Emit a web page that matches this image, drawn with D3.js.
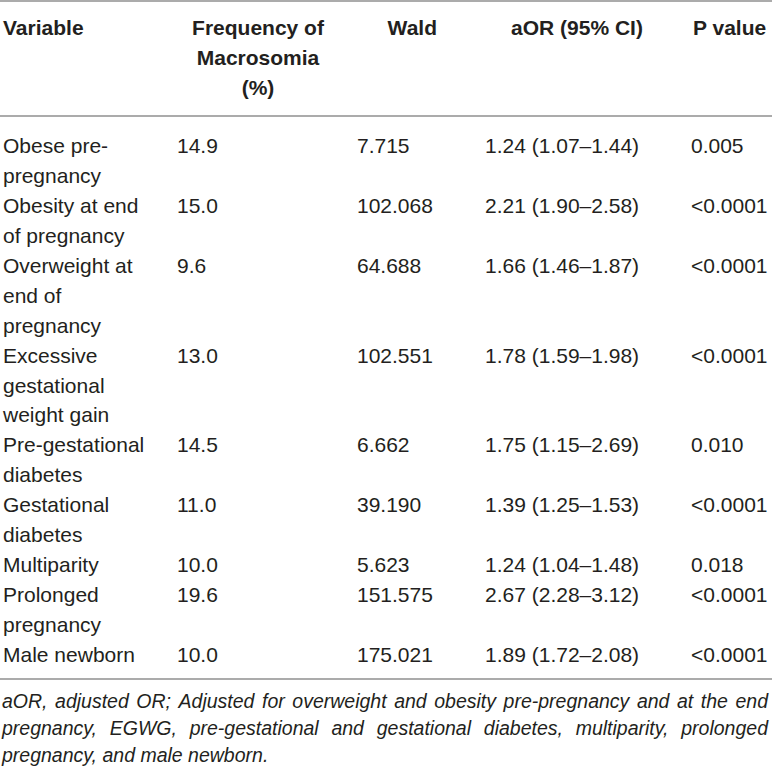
<!DOCTYPE html>
<html>
<head>
<meta charset="utf-8">
<script src="https://cdn.jsdelivr.net/npm/d3@7"></script>
<style>
  html, body { margin: 0; padding: 0; background: #fff; }
  svg { display: block; }
  text { font-family: "Liberation Sans", Arial, Helvetica, sans-serif; fill: #231f20; }
</style>
</head>
<body>
<svg id="chart" width="772" height="770"></svg>
<script>
// ---- data ----
const headerVariable = ["Variable"];
const headerFrequency = ["Frequency of", "Macrosomia", "(%)"];
const headerWald = ["Wald"];
const headerAOR = ["aOR (95% CI)"];
const headerP = ["P value"];

const variables = [
  ["Obese pre-", "pregnancy"],
  ["Obesity at end", "of pregnancy"],
  ["Overweight at", "end of", "pregnancy"],
  ["Excessive", "gestational", "weight gain"],
  ["Pre-gestational", "diabetes"],
  ["Gestational", "diabetes"],
  ["Multiparity"],
  ["Prolonged", "pregnancy"],
  ["Male newborn"]
];
const frequency = ["14.9", "15.0", "9.6", "13.0", "14.5", "11.0", "10.0", "19.6", "10.0"];
const wald = ["7.715", "102.068", "64.688", "102.551", "6.662", "39.190", "5.623", "151.575", "175.021"];
const aor = ["1.24 (1.07\u20131.44)", "2.21 (1.90\u20132.58)", "1.66 (1.46\u20131.87)", "1.78 (1.59\u20131.98)",
             "1.75 (1.15\u20132.69)", "1.39 (1.25\u20131.53)", "1.24 (1.04\u20131.48)", "2.67 (2.28\u20133.12)", "1.89 (1.72\u20132.08)"];
const pvalue = ["0.005", "<0.0001", "<0.0001", "<0.0001", "0.010", "<0.0001", "0.018", "<0.0001", "<0.0001"];

const footnote = [
  "aOR, adjusted OR; Adjusted for overweight and obesity pre-pregnancy and at the end",
  "pregnancy, EGWG, pre-gestational and gestational diabetes, multiparity, prolonged",
  "pregnancy, and male newborn."
];

// ---- layout ----
const svg = d3.select("#chart");
const W = 772;
const fontSize = 21;
const lineColor = "#8f8f8f";

// cumulative line index for each row
const startLine = [];
let acc = 0;
variables.forEach(v => { startLine.push(acc); acc += v.length; });
const totalLines = acc;

const yHeader = d3.scaleLinear().domain([0, 2]).range([35, 95]);
const yBody = d3.scaleLinear().domain([0, totalLines - 1]).range([153, 662]);
const yFoot = d3.scaleLinear().domain([0, 2]).range([708, 762]);

const col = { variable: 3, freq: 177, wald: 357, aor: 485, p: 691 };

// rules
const rules = [1, 116, 679];
svg.selectAll("line.rule").data(rules).join("line")
  .attr("class", "rule")
  .attr("x1", 0).attr("x2", W)
  .attr("y1", d => d).attr("y2", d => d)
  .attr("stroke", lineColor).attr("stroke-width", 1.5);

// header
const hdr = svg.append("g").attr("font-weight", "bold").attr("font-size", fontSize);
hdr.selectAll("text.hv").data(headerVariable).join("text")
  .attr("x", col.variable).attr("y", (d, i) => yHeader(i)).text(d => d);
hdr.selectAll("text.hf").data(headerFrequency).join("text")
  .attr("x", 258).attr("y", (d, i) => yHeader(i)).attr("text-anchor", "middle").text(d => d);
hdr.selectAll("text.hw").data(headerWald).join("text")
  .attr("x", 437).attr("y", (d, i) => yHeader(i)).attr("text-anchor", "end").text(d => d);
hdr.selectAll("text.ha").data(headerAOR).join("text")
  .attr("x", 577).attr("y", (d, i) => yHeader(i)).attr("text-anchor", "middle").text(d => d);
hdr.selectAll("text.hp").data(headerP).join("text")
  .attr("x", 693).attr("y", (d, i) => yHeader(i)).text(d => d);

// body
const body = svg.append("g").attr("font-size", fontSize);
const rows = body.selectAll("g.row").data(variables.map((v, i) => ({
  v, f: frequency[i], w: wald[i], a: aor[i], p: pvalue[i], s: startLine[i]
}))).join("g").attr("class", "row");

rows.each(function(d) {
  const g = d3.select(this);
  g.selectAll("text.var").data(d.v).join("text")
    .attr("class", "var")
    .attr("x", col.variable)
    .attr("y", (t, j) => yBody(d.s + j))
    .text(t => t);
  const y0 = yBody(d.s);
  g.append("text").attr("x", col.freq).attr("y", y0).text(d.f);
  g.append("text").attr("x", col.wald).attr("y", y0).text(d.w);
  g.append("text").attr("x", col.aor).attr("y", y0).text(d.a);
  g.append("text").attr("x", col.p).attr("y", y0).text(d.p);
});

// footnote (justified italic)
const foot = svg.append("g").attr("font-size", 19.5).attr("font-style", "italic");
const fx0 = 2, fx1 = 768;
footnote.forEach((line, i) => {
  const y = yFoot(i);
  if (i === footnote.length - 1) {
    foot.append("text").attr("x", fx0).attr("y", y).text(line);
    return;
  }
  const words = line.split(" ");
  const nodes = words.map(w => foot.append("text").attr("y", y).text(w));
  const widths = nodes.map(n => n.node().getComputedTextLength());
  const total = d3.sum(widths);
  const gap = (fx1 - fx0 - total) / (words.length - 1);
  let x = fx0;
  nodes.forEach((n, k) => { n.attr("x", x); x += widths[k] + gap; });
});
</script>
</body>
</html>
